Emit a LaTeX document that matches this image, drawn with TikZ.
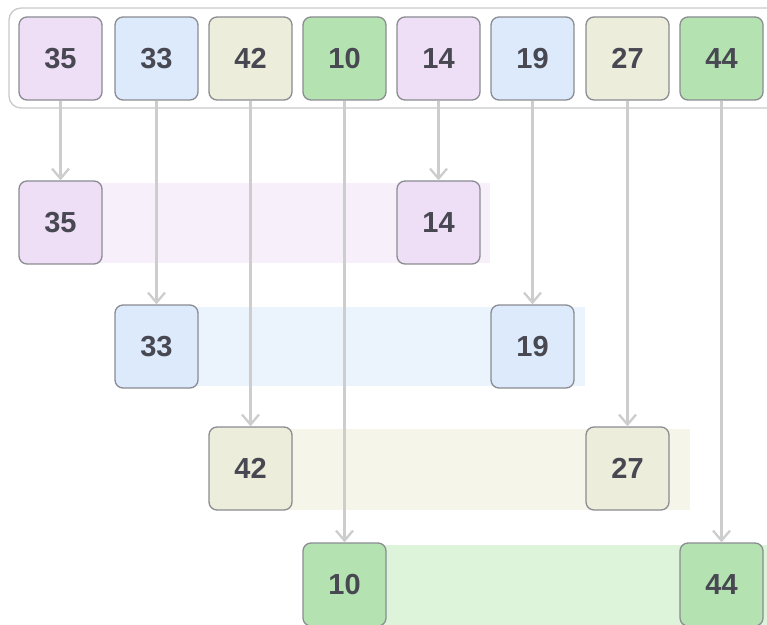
\documentclass[tikz,border=0pt]{standalone}
\usepackage{fontspec}
\setmainfont{Liberation Sans}
\usetikzlibrary{arrows.meta}
\definecolor{pu}{HTML}{EEDFF6}
\definecolor{bl}{HTML}{DCEAFB}
\definecolor{be}{HTML}{EDEDDB}
\definecolor{gr}{HTML}{B4E3B1}
\definecolor{puband}{HTML}{F7F0FA}
\definecolor{blband}{HTML}{EBF3FC}
\definecolor{beband}{HTML}{F6F5EA}
\definecolor{grband}{HTML}{DDF3DA}
\definecolor{bordc}{HTML}{8A8C92}
\definecolor{linec}{HTML}{CDCDCD}
\definecolor{contc}{HTML}{C9C9C9}
\definecolor{txt}{HTML}{484852}
\begin{document}
\begin{tikzpicture}[x=1pt,y=1pt,
  box/.style={draw=bordc, line width=1.3pt, rounded corners=8pt, minimum width=83pt, minimum height=83pt, inner sep=0pt, font=\fontsize{29}{29}\selectfont\bfseries, text=txt},
  link/.style={draw=linec, line width=2.3pt, -{Straight Barb[length=10pt,width=17pt]}}]
\useasboundingbox (0,0) rectangle (767,624);
\clip (0,0) rectangle (767,624);
% container
\draw[draw=contc, line width=1.3pt, fill=white, rounded corners=12pt] (9,516) rectangle (790,616);
% bands
\fill[puband] (60,361) rectangle (490,441);
\fill[blband] (156,238) rectangle (585,317);
\fill[beband] (250,114) rectangle (690,195);
\fill[grband] (344,-4) rectangle (790,79);
% top row
\node[box, fill=pu] (t1) at (60.5,565.5) {35};
\node[box, fill=bl] (t2) at (156.5,565.5) {33};
\node[box, fill=be] (t3) at (250.5,565.5) {42};
\node[box, fill=gr] (t4) at (344.5,565.5) {10};
\node[box, fill=pu] (t5) at (438.5,565.5) {14};
\node[box, fill=bl] (t6) at (532.5,565.5) {19};
\node[box, fill=be] (t7) at (627.5,565.5) {27};
\node[box, fill=gr] (t8) at (721.5,565.5) {44};
% split rows
\node[box, fill=pu] (a1) at (60.5,401.5) {35};
\node[box, fill=pu] (a2) at (438.5,401.5) {14};
\node[box, fill=bl] (b1) at (156.5,277.5) {33};
\node[box, fill=bl] (b2) at (532.5,277.5) {19};
\node[box, fill=be] (c1) at (250.5,155.5) {42};
\node[box, fill=be] (c2) at (627.5,155.5) {27};
\node[box, fill=gr] (d1) at (344.5,39.5) {10};
\node[box, fill=gr] (d2) at (721.5,39.5) {44};
% connectors
\draw[link] (t1) -- (a1);
\draw[link] (t5) -- (a2);
\draw[link] (t2) -- (b1);
\draw[link] (t6) -- (b2);
\draw[link] (t3) -- (c1);
\draw[link] (t7) -- (c2);
\draw[link] (t4) -- (d1);
\draw[link] (t8) -- (d2);
\end{tikzpicture}
\end{document}
